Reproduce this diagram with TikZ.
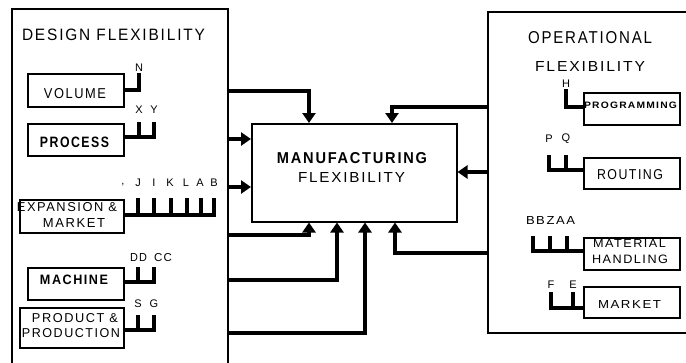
\documentclass[tikz,border=0pt]{standalone}
\usepackage{fontspec}
\setmainfont{Liberation Sans}
\newfontfamily\lr[LetterSpace=12]{Liberation Sans}
\usetikzlibrary{arrows.meta}
\newcommand\tx[3]{\resizebox{#1pt}{#2pt}{\lr #3}}
\begin{document}
\begin{tikzpicture}[x=1pt,y=-1pt,
  frame/.style={draw, line width=1.5pt, inner sep=0, anchor=north west},
  box/.style={draw, line width=1.5pt, inner sep=0, anchor=north west, minimum width=96pt},
  lbl/.style={inner sep=0, anchor=center},
  conn/.style={line width=4.8pt, line join=miter, -{Triangle[width=13pt,length=10pt]}},
  comb/.style={line width=3.4pt, line join=miter},
  let/.style={inner sep=0, anchor=center, font=\lr\fontsize{11}{11}\selectfont},
]
\useasboundingbox (0,0) rectangle (686,362);

% outer frames
\node[frame, minimum width=216pt, minimum height=380pt] (design) at (11,8) {};
\node[frame, minimum width=230pt, minimum height=321pt] (opflex) at (487,11) {};

% central box
\node[frame, minimum width=205pt, minimum height=98pt] (mfg) at (251,123) {};
\node[lbl] (mfgA) at (352,158.5) {\tx{150}{11}{\bfseries MANUFACTURING}};
\node[lbl] (mfgB) at (351.5,177) {\tx{107}{10}{FLEXIBILITY}};

% design side
\node[lbl] (dtitle) at (113.5,35) {\tx{183}{11.5}{DESIGN FLEXIBILITY}};
\node[box, minimum height=33pt] (vol) at (27,73) {};
\node[lbl] (volT) at (75,94) {\tx{62}{10}{VOLUME}};
\node[box, minimum height=32pt] (proc) at (27,123) {};
\node[lbl] (procT) at (74.5,142) {\tx{69}{10.5}{\bfseries PROCESS}};
\node[box, minimum width=104pt, minimum height=33pt] (exp) at (19,199) {};
\node[lbl] (expT) at (67,207.5) {\tx{100}{9}{EXPANSION \&}};
\node[lbl] (expT2) at (74,222.5) {\tx{62}{9}{MARKET}};
\node[box, minimum height=32pt] (mach) at (27,267) {};
\node[lbl] (machT) at (74,279.5) {\tx{68}{9.5}{\bfseries MACHINE}};
\node[box, minimum width=104pt, minimum height=40pt] (prod) at (19,307) {};
\node[lbl] (prodT) at (75,318.5) {\tx{86}{9}{PRODUCT \&}};
\node[lbl] (prodT2) at (71,333.5) {\tx{98}{9}{PRODUCTION}};

% operational side
\node[lbl] (otitle) at (590,38) {\tx{124}{12}{OPERATIONAL}};
\node[lbl] (otitle2) at (590,66) {\tx{110}{10}{FLEXIBILITY}};
\node[box, minimum height=32pt] (prog) at (583,92) {};
\node[lbl] (progT) at (630.5,105) {\tx{93}{6.5}{\bfseries PROGRAMMING}};
\node[box, minimum height=31pt] (rout) at (583,157) {};
\node[lbl] (routT) at (630,175) {\tx{66}{10}{ROUTING}};
\node[box, minimum height=32pt] (mat) at (583,237) {};
\node[lbl] (matT) at (629.5,243) {\tx{73}{8}{MATERIAL}};
\node[lbl] (matT2) at (630,259) {\tx{76}{8.5}{HANDLING}};
\node[box, minimum height=31pt] (mkt) at (583,286) {};
\node[lbl] (mktT) at (629.5,304) {\tx{63}{8}{MARKET}};

% letter labels
\node[let] (lN) at (139,68) {N};
\node[let] (lX) at (139,110) {X};
\node[let] (lY) at (154,110) {Y};
\node[let] (lc) at (123,185) {,};
\node[let] (lJ) at (138,183) {J};
\node[let] (lI) at (154,183) {I};
\node[let] (lK) at (170,183) {K};
\node[let] (lL) at (186,183) {L};
\node[let] (lA) at (200,183) {A};
\node[let] (lB) at (214,183) {B};
\node[inner sep=0, anchor=base] (lDD) at (138.5,261) {\tx{17}{8}{DD}};
\node[inner sep=0, anchor=base] (lCC) at (163,261) {\tx{18}{8}{CC}};
\node[let] (lS) at (138,304) {S};
\node[let] (lG) at (154,304) {G};
\node[let] (lH) at (566,84) {H};
\node[let] (lP) at (549,139) {P};
\node[let] (lQ) at (566,139) {Q};
\node[lbl] (lBB) at (550.5,220) {\tx{49}{8}{BBZAA}};
\node[let] (lF) at (551,285) {F};
\node[let] (lE) at (573,285) {E};

% combs, design side
\draw[comb] (vol.east |- 0,90) -| (139,73);
\draw[comb] (proc.east |- 0,137) -| (154,122);
\draw[comb] (139,137) -- (139,122);
\draw[comb] (exp.east |- 0,215) -| (214,198);
\foreach \xx in {138,154,171,187,201} \draw[comb] (\xx,215) -- (\xx,198);
\draw[comb] (mach.east |- 0,282) -| (154,267);
\draw[comb] (138,282) -- (138,267);
\draw[comb] (prod.east |- 0,330) -| (154,315);
\draw[comb] (138,330) -- (138,315);

% combs, operational side
\draw[comb] (prog.west |- 0,107) -| (566,89);
\draw[comb] (rout.west |- 0,170) -| (549,155);
\draw[comb] (566,170) -- (566,155);
\draw[comb] (mat.west |- 0,251) -| (533,236);
\foreach \xx in {550,567} \draw[comb] (\xx,251) -- (\xx,236);
\draw[comb] (mkt.west |- 0,308) -| (551,292);
\draw[comb] (573,308) -- (573,292);

% main connectors
\draw[conn] (design.east |- 0,91) -| (mfg.north -| 309,0);
\draw[conn] (design.east |- 0,139) -- (mfg.west |- 0,139);
\draw[conn] (design.east |- 0,187) -- (mfg.west |- 0,187);
\draw[conn] (design.east |- 0,235) -| (mfg.south -| 309,0);
\draw[conn] (design.east |- 0,280) -| (mfg.south -| 337,0);
\draw[conn] (design.east |- 0,333) -| (mfg.south -| 365,0);
\draw[conn] (opflex.west |- 0,107) -| (mfg.north -| 392,0);
\draw[conn] (opflex.west |- 0,172) -- (mfg.east |- 0,172);
\draw[conn] (opflex.west |- 0,253) -| (mfg.south -| 395,0);
\end{tikzpicture}
\end{document}
